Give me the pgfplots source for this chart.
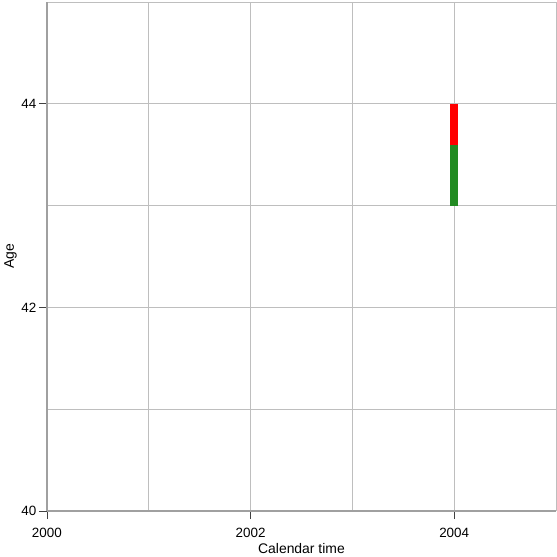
\documentclass[border=0pt]{standalone}
\usepackage{pgfplots}
\pgfplotsset{compat=1.18}
\usepackage{fontspec}
\setmainfont{Liberation Sans}
\definecolor{fgreen}{HTML}{228B22}
\definecolor{gridc}{HTML}{BEBEBE}
\definecolor{axc}{HTML}{A0A0A0}
\begin{document}
\begin{tikzpicture}[x=1bp,y=1bp]
\begin{axis}[
  scale only axis, width=510bp, height=510bp,
  xmin=2000, xmax=2005, ymin=40, ymax=45,
  axis x line*=bottom, axis y line*=left,
  axis line style={draw=axc, line width=1.2bp, -},
  xtick={2000,2002,2004}, ytick={40,42,44},
  minor xtick={2001,2003,2005}, minor ytick={41,43,45},
  grid=both,
  major grid style={draw=gridc, line width=0.8bp},
  minor grid style={draw=gridc, line width=0.8bp},
  tick align=outside, major tick length=8bp, minor tick length=0bp,
  major tick style={draw=black!75, line width=0.8bp},
  /pgf/number format/assume math mode=true,
  /pgf/number format/1000 sep={},
  xticklabel style={font=\fontsize{13.5}{15}\selectfont, yshift=-6bp},
  yticklabel style={font=\fontsize{13.5}{15}\selectfont, xshift=1bp},
  xlabel={Calendar time}, ylabel={Age},
  label style={font=\fontsize{14}{16}\selectfont},
  xlabel style={yshift=1bp},
  ylabel style={yshift=-2bp},
  clip=false,
]
\addplot[draw=fgreen, line width=8bp, line cap=butt] coordinates {(2004,43) (2004,43.6)};
\addplot[draw=red, line width=8bp, line cap=butt] coordinates {(2004,43.6) (2004,44)};
\coordinate (sw) at (rel axis cs:0,0);
\coordinate (ne) at (rel axis cs:1,1);
\end{axis}
\pgfresetboundingbox
\path (sw) ++(-47bp,-46bp) coordinate (a);
\path (ne) ++(0bp,2bp) coordinate (b);
\path[use as bounding box] (a) rectangle (b);
\end{tikzpicture}
\end{document}
